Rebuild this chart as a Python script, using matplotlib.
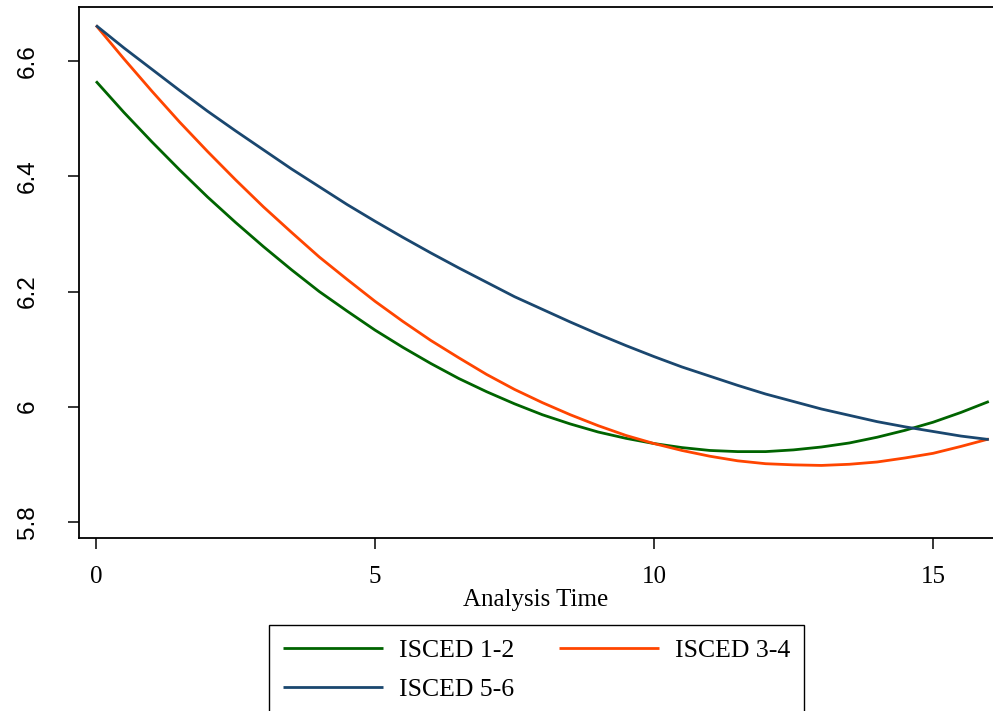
import matplotlib.pyplot as plt

plt.rcParams['font.family'] = ['Liberation Serif', 'DejaVu Serif']

# values (every half unit of analysis time)
time = [0, 0.5, 1, 1.5, 2, 2.5, 3, 3.5, 4, 4.5, 5, 5.5, 6, 6.5, 7, 7.5, 8,
        8.5, 9, 9.5, 10, 10.5, 11, 11.5, 12, 12.5, 13, 13.5, 14, 14.5, 15,
        15.5, 16]
isced_12 = [6.565, 6.511, 6.460, 6.411, 6.364, 6.320, 6.278, 6.238, 6.200,
            6.166, 6.133, 6.103, 6.075, 6.049, 6.026, 6.005, 5.986, 5.970,
            5.956, 5.945, 5.936, 5.929, 5.924, 5.922, 5.922, 5.925, 5.930,
            5.937, 5.947, 5.959, 5.973, 5.990, 6.009]
isced_34 = [6.662, 6.604, 6.548, 6.494, 6.443, 6.394, 6.347, 6.303, 6.260,
            6.221, 6.183, 6.148, 6.115, 6.085, 6.056, 6.030, 6.007, 5.986,
            5.967, 5.950, 5.936, 5.924, 5.914, 5.906, 5.901, 5.899, 5.898,
            5.900, 5.904, 5.911, 5.919, 5.931, 5.944]
isced_56 = [6.662, 6.623, 6.586, 6.549, 6.513, 6.479, 6.446, 6.413, 6.382,
            6.351, 6.322, 6.294, 6.267, 6.241, 6.216, 6.191, 6.169, 6.147,
            6.126, 6.106, 6.087, 6.069, 6.053, 6.037, 6.022, 6.009, 5.996,
            5.985, 5.974, 5.965, 5.957, 5.949, 5.943]
labels = ['ISCED 1-2', 'ISCED 3-4', 'ISCED 5-6']
colors = ['#006400', '#FF4500', '#1A476F']

fig = plt.figure(figsize=(9.93, 7.11), dpi=100)
ax = fig.add_axes([79 / 993, 1 - 538 / 711, 1 - 79 / 993, (538 - 7) / 711])

for y, lab, c in zip([isced_12, isced_34, isced_56], labels, colors):
    ax.plot(time, y, color=c, lw=2.0, label=lab, solid_capstyle='butt')

ax.set_xlim(-0.305, 16.075)
ax.set_ylim(5.772, 6.694)
ax.set_xticks([0, 5, 10, 15])
ax.set_yticks([5.8, 6.0, 6.2, 6.4, 6.6])
ax.set_yticklabels(['5.8', '6', '6.2', '6.4', '6.6'], rotation=90, va='center',
                   family=['Liberation Sans', 'DejaVu Sans'], fontsize=17.5)
ax.tick_params(direction='out', length=8, width=1.1)
ax.tick_params(axis='y', pad=21)
ax.tick_params(axis='x', labelsize=18, pad=12)
ax.set_xlabel('Analysis Time', fontsize=18, labelpad=1)
ax.spines['right'].set_visible(False)
for s in ['left', 'bottom', 'top']:
    ax.spines[s].set_linewidth(1.3)

handles, labs = ax.get_legend_handles_labels()
# order: row 1 = 1-2, 3-4 ; row 2 = 5-6
leg = fig.legend([handles[0], handles[2], handles[1]],
                 [labs[0], labs[2], labs[1]],
                 ncol=2, loc='upper left',
                 bbox_to_anchor=(269 / 993, 1 - 625 / 711),
                 fontsize=18.5, handlelength=3.9, handletextpad=0.6,
                 columnspacing=1.75, borderpad=0.55, labelspacing=0.6,
                 borderaxespad=0,
                 fancybox=False, edgecolor='black', framealpha=1)
leg.get_frame().set_linewidth(1.0)

fig.savefig('out.png', dpi=100)
